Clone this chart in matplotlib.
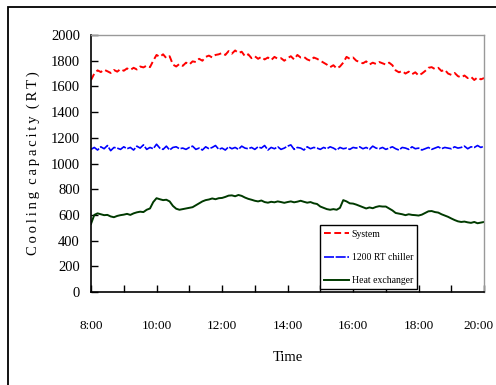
import numpy as np
import matplotlib.pyplot as plt
import matplotlib.transforms as mtransforms
from matplotlib.patches import Rectangle

# time in hours, one reading every 6 minutes from 8:00 to 20:00
hours = np.linspace(8, 20, 121)

system_rt = [
    1650, 1700, 1725, 1712, 1730, 1718, 1705, 1728, 1715, 1735,
    1722, 1740, 1728, 1745, 1732, 1755, 1748, 1762, 1750, 1800,
    1845, 1830, 1850, 1820, 1835, 1770, 1755, 1775, 1760, 1785,
    1770, 1795, 1790, 1815, 1800, 1830, 1840, 1825, 1845, 1850,
    1860, 1845, 1875, 1855, 1880, 1860, 1870, 1835, 1850, 1820,
    1835, 1815, 1830, 1810, 1825, 1805, 1830, 1815, 1820, 1800,
    1820, 1835, 1810, 1845, 1825, 1830, 1810, 1800, 1825, 1815,
    1800, 1785, 1770, 1750, 1765, 1740, 1755, 1785, 1830, 1815,
    1825, 1800, 1790, 1780, 1795, 1770, 1785, 1775, 1790, 1780,
    1770, 1785, 1765, 1725, 1710, 1720, 1700, 1715, 1695, 1710,
    1685, 1700, 1720, 1745, 1750, 1735, 1745, 1720, 1730, 1700,
    1690, 1705, 1680, 1670, 1685, 1665, 1675, 1650, 1670, 1655,
    1665,
]

chiller_rt = [
    1110, 1125, 1105, 1130, 1115, 1140, 1100, 1125, 1120, 1110,
    1130, 1115, 1125, 1105, 1135, 1120, 1145, 1110, 1125, 1115,
    1150, 1120, 1110, 1135, 1105, 1125, 1130, 1115, 1120, 1110,
    1125, 1135, 1110, 1120, 1105, 1130, 1115, 1125, 1140, 1110,
    1120, 1105, 1130, 1115, 1125, 1110, 1135, 1120, 1115, 1125,
    1110, 1130, 1120, 1140, 1105, 1125, 1115, 1130, 1110, 1120,
    1135, 1145, 1110, 1125, 1120, 1105, 1130, 1115, 1125, 1120,
    1110, 1125, 1115, 1130, 1120, 1105, 1125, 1115, 1120, 1110,
    1125, 1120, 1130, 1115, 1125, 1110, 1135, 1120, 1115, 1125,
    1110, 1120, 1130, 1115, 1105, 1125, 1120, 1110, 1130, 1115,
    1120, 1105, 1115, 1125, 1110, 1120, 1130, 1115, 1125, 1120,
    1115, 1130, 1120, 1125, 1135, 1115, 1130, 1125, 1140, 1125,
    1135,
]

hx_rt = [
    530, 600, 612, 605, 598, 600, 588, 582, 592, 598,
    602, 608, 600, 612, 620, 625, 622, 640, 650, 700,
    730, 722, 715, 718, 705, 670, 648, 640, 645, 650,
    655, 660, 675, 690, 705, 715, 720, 728, 722, 730,
    732, 740, 750, 752, 745, 755, 748, 735, 725, 718,
    710, 705, 712, 700, 695, 702, 698, 705, 700, 694,
    700, 705, 698, 703, 710, 702, 695, 700, 690, 685,
    665, 655, 645, 640, 645, 640, 655, 715, 705, 690,
    688, 680, 670, 660, 650, 658, 652, 662, 668, 665,
    665, 650, 635, 615, 610, 605, 598, 605, 600, 598,
    595, 602, 615, 628, 630, 622, 618, 605, 595, 585,
    572, 560, 550, 545, 548, 542, 538, 545, 535, 540,
    545,
]

major_hours = [8, 10, 12, 14, 16, 18, 20]
major_labels = ['8:00', '10:00', '12:00', '14:00', '16:00', '18:00', '20:00']

plt.rcParams['font.family'] = ['Liberation Serif', 'DejaVu Serif']

fig = plt.figure(figsize=(4.96, 3.85), dpi=100)
ax = fig.add_axes([0.1835, 0.2416, 0.7925, 0.6674])

# outer frame around the figure
fig.patches.append(Rectangle((8 / 496, -0.05), 1.2, 1.05 - 7 / 385,
                             transform=fig.transFigure, fill=False,
                             edgecolor='black', linewidth=1.3))

ax.plot(hours, system_rt, color='#ff0000', linewidth=1.4, dashes=(3.5, 1.8), label='System')
ax.plot(hours, chiller_rt, color='#0000ff', linewidth=1.2, dashes=(6, 1), label='1200 RT chiller')
ax.plot(hours, hx_rt, color='#003a00', linewidth=1.4, label='Heat exchanger')

ax.set_xlim(8, 20)
ax.set_ylim(0, 2000)
ax.set_xticks(major_hours)
ax.set_xticklabels(major_labels)
ax.set_xticks(range(8, 21), minor=True)
ax.set_yticks(range(0, 2001, 200))

ax.tick_params(axis='both', which='both', direction='in', length=5, width=1, colors='black')
ax.tick_params(axis='x', which='major', pad=20, labelsize=9.5)
ax.tick_params(axis='y', pad=8, labelsize=10.5)

# nudge the last time label so it stays inside the picture
last = ax.get_xticklabels()[-1]
last.set_transform(last.get_transform() +
                   mtransforms.ScaledTranslation(-4 / 72, 0, fig.dpi_scale_trans))

for side in ['left', 'bottom']:
    ax.spines[side].set_color('black')
    ax.spines[side].set_linewidth(1.2)
for side in ['top', 'right']:
    ax.spines[side].set_color('#999999')
    ax.spines[side].set_linewidth(1.0)

ax.set_xlabel('Time', fontsize=10.5, labelpad=14)
ylab = '\u2009'.join('Cooling') + '  ' + '\u2009'.join('capacity') + '  ' + '\u2009'.join('(RT)')
ax.set_ylabel(ylab, fontsize=10.5, labelpad=8)

leg = ax.legend(loc='lower right', bbox_to_anchor=(0.83, 0.01), fontsize=7,
                frameon=True, fancybox=False, edgecolor='black', framealpha=1,
                handlelength=2.5, handletextpad=0.3, borderpad=0.45, labelspacing=1.45,
                borderaxespad=0)
leg.get_frame().set_linewidth(1.0)

fig.savefig('out.png', dpi=100)
